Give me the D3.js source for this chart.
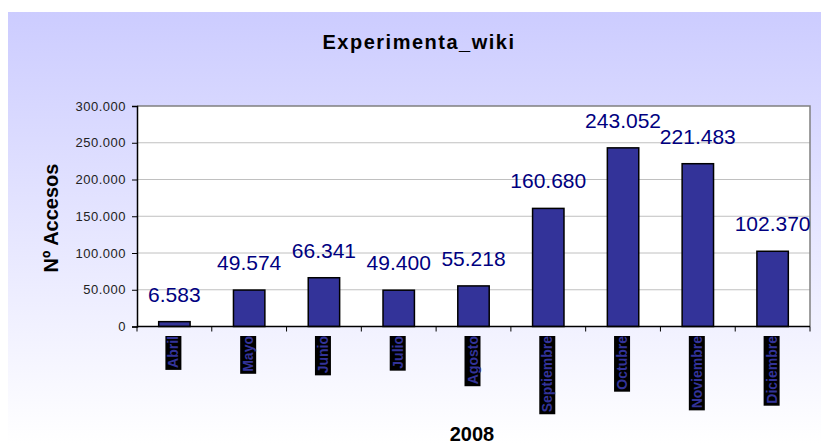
<!DOCTYPE html>
<html>
<head>
<meta charset="utf-8">
<script src="https://cdn.jsdelivr.net/npm/d3@7/dist/d3.min.js"></script>
<style>
  html, body { margin: 0; padding: 0; background: #ffffff; }
  svg { display: block; font-family: "Liberation Sans", Arial, sans-serif; }
</style>
</head>
<body>
<svg id="chart" width="821" height="444"></svg>
<script>
// Monthly wiki accesses, 2008
const months = ["Abril", "Mayo", "Junio", "Julio", "Agosto", "Septiembre", "Octubre", "Noviembre", "Diciembre"];
const accesses = [6583, 49574, 66341, 49400, 55218, 160680, 243052, 221483, 102370];
const yTicks = [0, 50000, 100000, 150000, 200000, 250000, 300000];
const chartTitle = "Experimenta_wiki";
const yTitle = "Nº Accesos";
const xTitle = "2008";

const es = d3.formatLocale({ decimal: ",", thousands: ".", grouping: [3], currency: ["", " €"] });
const fmt = es.format(",d");

const svg = d3.select("#chart");
const W = 821, H = 444;
const plot = { left: 137, right: 810, top: 106, bottom: 326.5 };

// Background panel with vertical lavender-to-white gradient
const defs = svg.append("defs");
const grad = defs.append("linearGradient").attr("id", "bg").attr("x1", 0).attr("y1", 0).attr("x2", 0).attr("y2", 1);
grad.append("stop").attr("offset", "0%").attr("stop-color", "#ccccff");
grad.append("stop").attr("offset", "100%").attr("stop-color", "#ffffff");
svg.append("rect").attr("x", 8).attr("y", 12).attr("width", W - 8).attr("height", H - 12).attr("fill", "url(#bg)");

const x = d3.scaleBand().domain(months).range([plot.left, plot.right]).paddingInner(0.58).paddingOuter(0.29);
const y = d3.scaleLinear().domain([0, 300000]).range([plot.bottom, plot.top]);

// Plot area
svg.append("rect")
  .attr("x", plot.left).attr("y", plot.top)
  .attr("width", plot.right - plot.left).attr("height", plot.bottom - plot.top)
  .attr("fill", "#ffffff");

// Horizontal gridlines
svg.append("g").selectAll("line").data(yTicks.filter(t => t > 0 && t < 300000)).join("line")
  .attr("x1", plot.left).attr("x2", plot.right)
  .attr("y1", d => y(d)).attr("y2", d => y(d))
  .attr("stroke", "#c0c0c0").attr("stroke-width", 1);

// Top and right frame in grey
svg.append("path")
  .attr("d", `M${plot.left},${plot.top}H${plot.right}V${plot.bottom}`)
  .attr("fill", "none").attr("stroke", "#808080").attr("stroke-width", 1.5);

// Bars
svg.append("g").selectAll("rect").data(accesses).join("rect")
  .attr("x", (d, i) => x(months[i]))
  .attr("y", d => y(d))
  .attr("width", x.bandwidth())
  .attr("height", d => y(0) - y(d))
  .attr("fill", "#333399")
  .attr("stroke", "#000000")
  .attr("stroke-width", 1.5);

// Value labels
svg.append("g").selectAll("text").data(accesses).join("text")
  .attr("x", (d, i) => x(months[i]) + x.bandwidth() / 2)
  .attr("y", d => y(d) - 20)
  .attr("text-anchor", "middle")
  .attr("font-size", 21)
  .attr("fill", "#000080")
  .text(d => fmt(d));

// Y axis
const yAxis = d3.axisLeft(y).tickValues(yTicks).tickFormat(fmt).tickSize(5).tickPadding(6);
const gy = svg.append("g").attr("transform", `translate(${plot.left},0)`).call(yAxis);
gy.select(".domain").attr("stroke", "#000").attr("stroke-width", 1.5);
gy.selectAll(".tick line").attr("stroke", "#000");
gy.selectAll(".tick text")
  .attr("font-family", "Liberation Sans, Arial, sans-serif")
  .attr("font-size", 13)
  .attr("letter-spacing", 0.5)
  .attr("fill", "#222222");

// X axis line and ticks at category boundaries
const step = x.step();
const boundaries = d3.range(months.length + 1).map(i => plot.left + i * step);
svg.append("line")
  .attr("x1", plot.left).attr("x2", plot.right)
  .attr("y1", plot.bottom).attr("y2", plot.bottom)
  .attr("stroke", "#000").attr("stroke-width", 1.5);
svg.append("g").selectAll("line").data(boundaries).join("line")
  .attr("x1", d => d).attr("x2", d => d)
  .attr("y1", plot.bottom).attr("y2", plot.bottom + 5)
  .attr("stroke", "#000").attr("stroke-width", 1);

// Vertical month labels on dark boxes
const labelTop = 336;
const lg = svg.append("g");
months.forEach(m => {
  const cx = x(m) + x.bandwidth() / 2 - 1;
  const g = lg.append("g");
  const box = g.append("rect").attr("fill", "#000000");
  const t = g.append("text")
    .attr("transform", `translate(${cx},${labelTop}) rotate(-90)`)
    .attr("text-anchor", "end")
    .attr("dy", "0.36em")
    .attr("font-size", 14)
    .attr("font-weight", "bold")
    .attr("fill", "#333399")
    .text(m);
  const len = t.node().getComputedTextLength();
  box.attr("x", cx - 8).attr("y", labelTop).attr("width", 16).attr("height", len + 2);
});

// Titles
svg.append("text")
  .attr("x", 419).attr("y", 49)
  .attr("text-anchor", "middle")
  .attr("font-size", 20).attr("font-weight", "bold")
  .attr("letter-spacing", 1.5)
  .attr("fill", "#000")
  .text(chartTitle);

svg.append("text")
  .attr("transform", `translate(58,218) rotate(-90)`)
  .attr("text-anchor", "middle")
  .attr("font-size", 20).attr("font-weight", "bold")
  .attr("fill", "#000")
  .text(yTitle);

svg.append("text")
  .attr("x", 472).attr("y", 441)
  .attr("text-anchor", "middle")
  .attr("font-size", 20).attr("font-weight", "bold")
  .attr("fill", "#000")
  .text(xTitle);
</script>
</body>
</html>
